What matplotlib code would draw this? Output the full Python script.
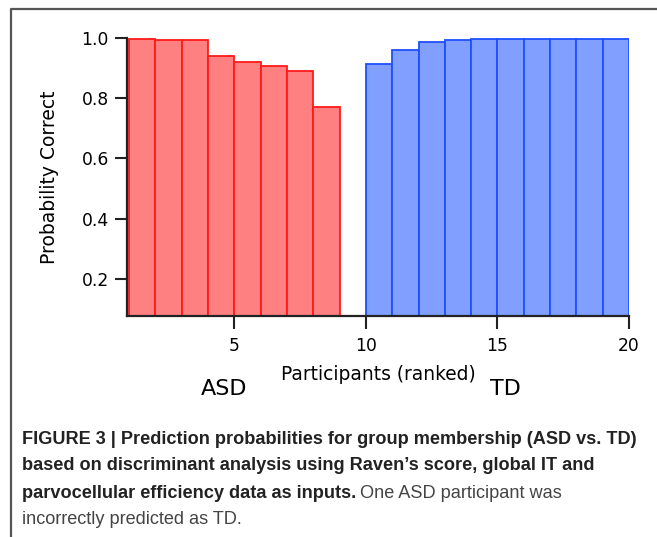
import numpy as np
import matplotlib.pyplot as plt
from matplotlib.lines import Line2D

# data
asd_rank = [1, 2, 3, 4, 5, 6, 7, 8]
asd_prob = [0.997, 0.992, 0.992, 0.939, 0.921, 0.907, 0.890, 0.770]
td_rank = [10, 11, 12, 13, 14, 15, 16, 17, 18, 19]
td_prob = [0.914, 0.960, 0.988, 0.993, 0.997, 0.997, 0.997, 0.997, 0.997, 0.997]
xticks = [5, 10, 15, 20]
yticks = [0.2, 0.4, 0.6, 0.8, 1.0]

W, H = 657, 537
fig = plt.figure(figsize=(W / 100, H / 100), dpi=100)

# axes box in pixel terms
left, right, top, bottom = 127, 629, 38, 316
ax = fig.add_axes([left / W, 1 - bottom / H, (right - left) / W, (bottom - top) / H])

ax.bar(asd_rank, asd_prob, width=1, align='edge', color='#ff8080',
       edgecolor='#ff1a1a', linewidth=1.3, zorder=2)
ax.bar(td_rank, td_prob, width=1, align='edge', color='#809fff',
       edgecolor='#1f4fff', linewidth=1.3, zorder=2)

ax.set_xlim(0.92, 20)
ax.set_ylim(0.077, 1.0)
ax.set_xticks(xticks)
ax.set_yticks(yticks)
ax.set_xticklabels([str(t) for t in xticks])
ax.set_yticklabels(['%.1f' % t for t in yticks])

for s in ['top', 'right']:
    ax.spines[s].set_visible(False)
for s in ['left', 'bottom']:
    ax.spines[s].set_linewidth(1.6)
    ax.spines[s].set_color('#222222')
ax.tick_params(direction='out', length=9, width=1.5, color='#222222',
               labelsize=12.3, pad=6)
ax.tick_params(axis='y', pad=4)

ax.set_ylabel('Probability Correct', fontsize=13.5, labelpad=16)
ax.set_xlabel('Participants (ranked)', fontsize=13.4, labelpad=7.5)

# group labels under the axis
fig.text(224 / W, 1 - 389 / H, 'ASD', fontsize=16, ha='center', va='center',
         family=['Liberation Sans Narrow', 'DejaVu Sans'])
fig.text(505 / W, 1 - 389 / H, 'TD', fontsize=16, ha='center', va='center',
         family=['Liberation Sans Narrow', 'DejaVu Sans'])

# frame around the figure panel
fig.add_artist(Line2D([11 / W, 11 / W, 1.0], [0, 1 - 9 / H, 1 - 9 / H],
                      transform=fig.transFigure, color='#555555', lw=1.6))

# caption
cap_fs = 13.1
cap_fam = ['Liberation Sans', 'DejaVu Sans']
cap_x = 22 / W
lines_y = [440, 466, 493, 519]
bold_lines = [
    'FIGURE 3 | Prediction probabilities for group membership (ASD vs. TD)',
    'based on discriminant analysis using Raven\u2019s score, global IT and',
    'parvocellular efficiency data as inputs.',
]
for txt, yy in zip(bold_lines, lines_y[:3]):
    t = fig.text(cap_x, 1 - yy / H, txt, fontsize=cap_fs, fontweight='bold',
                 ha='left', va='center', family=cap_fam, color='#222222')

fig.canvas.draw()
bb = t.get_window_extent()
fig.text(bb.x1 / W + 4 / W, 1 - lines_y[2] / H, 'One ASD participant was',
         fontsize=cap_fs, ha='left', va='center', family=cap_fam, color='#444444')
fig.text(cap_x, 1 - lines_y[3] / H, 'incorrectly predicted as TD.',
         fontsize=cap_fs, ha='left', va='center', family=cap_fam, color='#444444')

fig.savefig('out.png', dpi=100)
